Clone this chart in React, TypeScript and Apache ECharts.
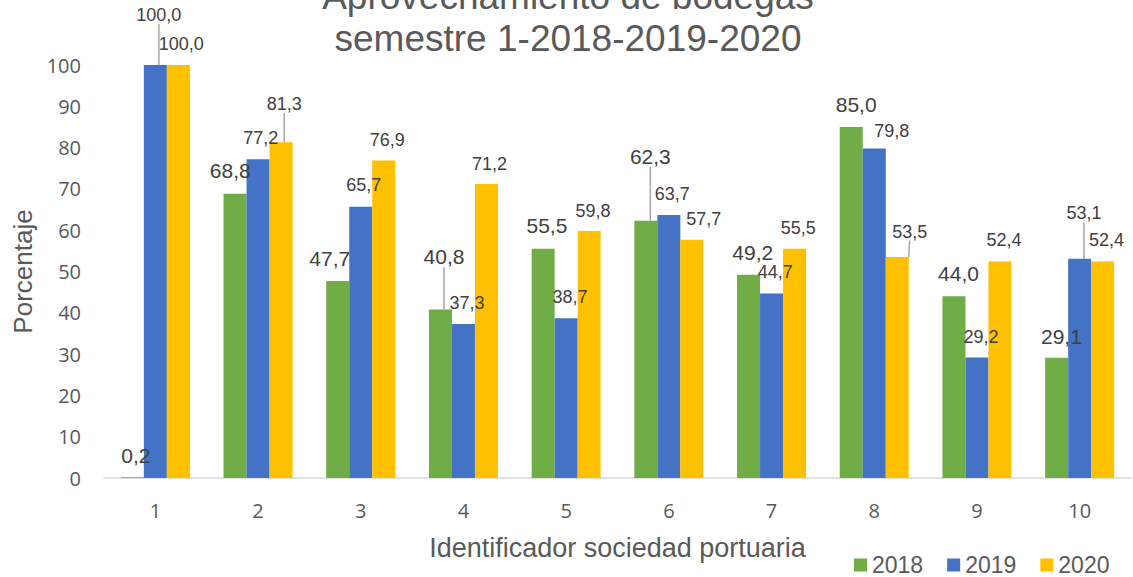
import React, { useEffect, useRef } from "react";
import * as echarts from "echarts";

const categories = ["1", "2", "3", "4", "5", "6", "7", "8", "9", "10"];
const seriesNames = ["2018", "2019", "2020"];
const values2018 = [0.2, 68.8, 47.7, 40.8, 55.5, 62.3, 49.2, 85.0, 44.0, 29.1];
const values2019 = [100.0, 77.2, 65.7, 37.3, 38.7, 63.7, 44.7, 79.8, 29.2, 53.1];
const values2020 = [100.0, 81.3, 76.9, 71.2, 59.8, 57.7, 55.5, 53.5, 52.4, 52.4];
const yTicks = [0, 10, 20, 30, 40, 50, 60, 70, 80, 90, 100];

// label offsets (dx, dy) from the top-centre of each bar, and which ones carry a leader line
const labelOffsets2018 = [[3.5, -22], [-4.8, -23.4], [-8, -22], [3.6, -53], [3.8, -23], [4.5, -64.7], [4.2, -22.8], [4.9, -22.5], [4.6, -22.8], [4.8, -21.8]];
const labelOffsets2019 = [[3.5, -50], [2.7, -21.2], [2.9, -21.7], [3.6, -20.5], [3.8, -21.2], [3.5, -20.9], [3.7, -21.4], [17.4, -17.9], [4.1, -20.9], [4.3, -45.2]];
const labelOffsets2020 = [[3, -21], [3.2, -38.2], [3.4, -20.4], [3.1, -20.4], [3.8, -20], [12, -20.2], [3.7, -20.3], [12.4, -25.5], [4.1, -21.1], [3.8, -21.1]];
const leaders2018 = [3, 5];
const leaders2019 = [0, 9];
const leaders2020 = [1, 7];

const colors = ["#70AD47", "#4472C4", "#FFC000"];

const fmt = (v: number) => v.toFixed(1).replace(".", ",");

function makeSeries(name: string, values: number[], offsets: number[][], leaders: number[], color: string, fontSize: number) {
  return {
    name,
    type: "bar",
    barWidth: 23,
    barGap: "0%",
    itemStyle: { color },
    data: values.map((v, i) => ({
      value: v,
      labelLine: { show: leaders.indexOf(i) >= 0 },
    })),
    label: {
      show: true,
      position: "top",
      formatter: (p: any) => fmt(p.value),
      color: "#404040",
      fontFamily: "Liberation Sans",
      fontSize,
    },
    labelLine: {
      show: false,
      lineStyle: { color: "#A6A6A6", width: 1.5 },
    },
    labelLayout: (params: any) => {
      const r = params.rect;
      const top = Math.min(r.y, r.y + r.height);
      const cx = r.x + r.width / 2;
      const off = offsets[params.dataIndex];
      return {
        x: cx + off[0],
        y: top + off[1],
        align: "center",
        verticalAlign: "middle",
      };
    },
  };
}

export default function App() {
  const ref = useRef<HTMLDivElement>(null);
  useEffect(() => {
    document.body.style.margin = "0";
    const chart = echarts.init(ref.current!, undefined, { renderer: "svg" });
    chart.setOption({
      animation: false,
      color: colors,
      title: {
        text: "Aprovechamiento de bodegas\nsemestre 1-2018-2019-2020",
        left: 568,
        textAlign: "center",
        top: -25,
        padding: 0,
        textStyle: {
          fontFamily: "Liberation Sans",
          fontSize: 37,
          lineHeight: 42,
          fontWeight: "normal",
          color: "#595959",
        },
      },
      legend: {
        data: seriesNames,
        left: 854,
        top: 553,
        padding: 0,
        icon: "rect",
        itemWidth: 13,
        itemHeight: 13,
        itemGap: 24,
        textStyle: { fontFamily: "Liberation Sans", fontSize: 23, lineHeight: 24, color: "#595959", padding: [0, 0, 0, 0] },
      },
      grid: { left: 104, right: 2, top: 65, bottom: 99 },
      xAxis: {
        type: "category",
        data: categories,
        name: "Identificador sociedad portuaria",
        nameLocation: "middle",
        nameGap: 56,
        nameTextStyle: { fontFamily: "Liberation Sans", fontSize: 27, color: "#595959" },
        axisLine: { lineStyle: { color: "#D9D9D9", width: 1.5 } },
        axisTick: { show: false },
        axisLabel: { fontFamily: "Open Sans", fontSize: 20, color: "#595959", margin: 22 },
      },
      yAxis: {
        type: "value",
        min: yTicks[0],
        max: yTicks[yTicks.length - 1],
        interval: 10,
        name: "Porcentaje",
        nameLocation: "middle",
        nameRotate: 90,
        nameGap: 68,
        nameTextStyle: { fontFamily: "Liberation Sans", fontSize: 26, color: "#595959" },
        axisLine: { show: false },
        axisTick: { show: false },
        splitLine: { show: false },
        axisLabel: { fontFamily: "Open Sans", fontSize: 20, color: "#595959", margin: 23 },
      },
      series: [
        makeSeries(seriesNames[0], values2018, labelOffsets2018, leaders2018, colors[0], 21),
        makeSeries(seriesNames[1], values2019, labelOffsets2019, leaders2019, colors[1], 18),
        makeSeries(seriesNames[2], values2020, labelOffsets2020, leaders2020, colors[2], 18),
      ],
    });
    return () => chart.dispose();
  }, []);
  return <div ref={ref} style={{ width: 1133, height: 577 }} />;
}
